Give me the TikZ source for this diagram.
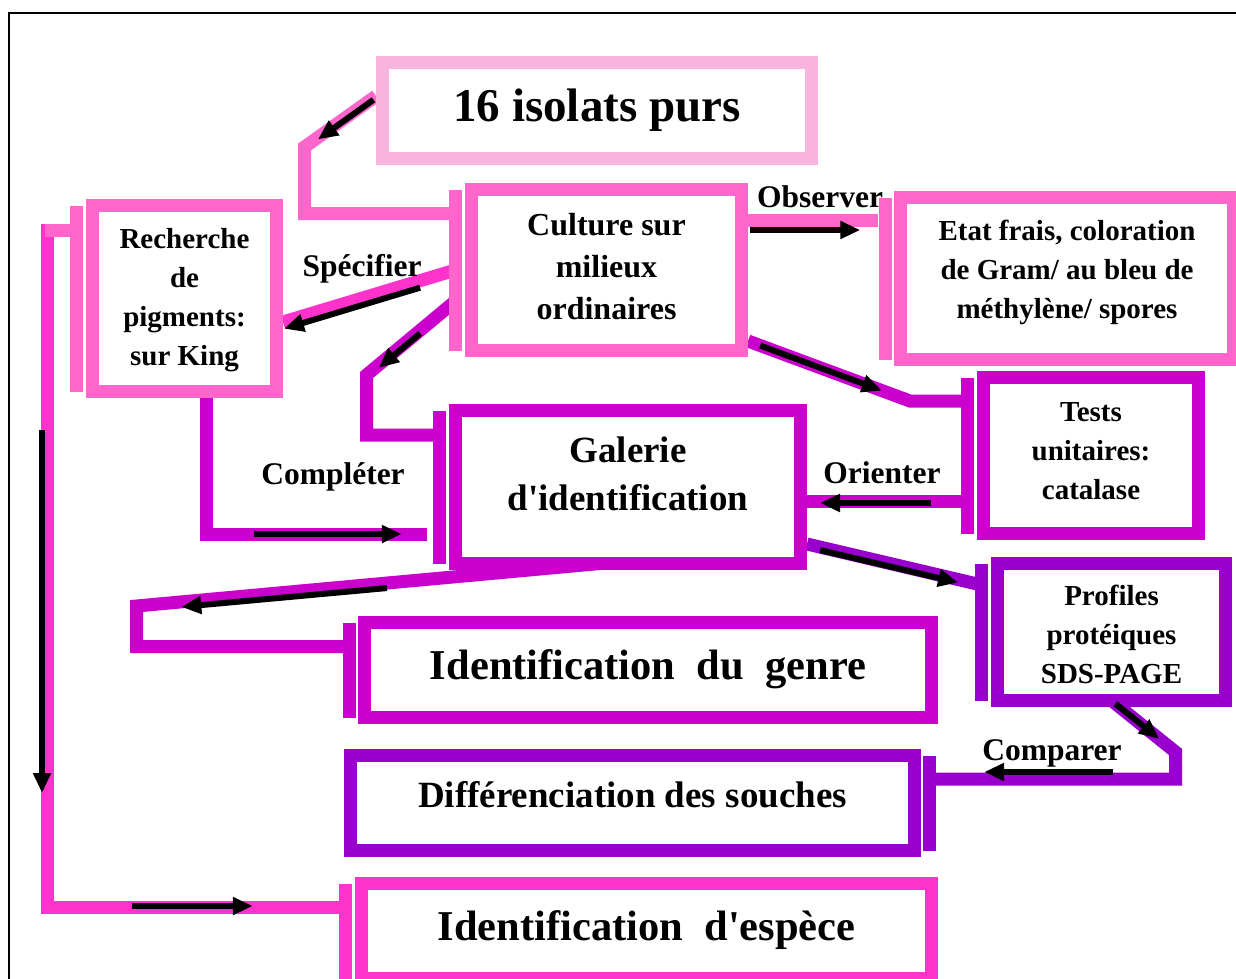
\documentclass[tikz,border=0pt]{standalone}
\usepackage{fontspec}
\setmainfont{Liberation Serif}
\usetikzlibrary{arrows.meta,backgrounds}

\definecolor{isopink}{HTML}{F8B4DE}
\definecolor{rosepk}{HTML}{FF66CC}
\definecolor{hotpk}{HTML}{FF33CC}
\definecolor{mag}{HTML}{CC00CC}
\definecolor{purp}{HTML}{9900CC}

% box text, raised inside its box without changing the box size
\newcommand{\boxtext}[2]{\raisebox{#1}[\height][\depth]{\begin{tabular}{@{}c@{}}#2\end{tabular}}}

\begin{document}
\begin{tikzpicture}[x=1pt, y=-1pt,
  box/.style={draw=#1, line width=13pt, fill=white, inner sep=0pt},
  bar/.style={fill=#1, inner sep=0pt, minimum width=13pt},
  wire/.style={draw=#1, line width=13pt},
  arr/.style={draw=black, line width=6pt, -{Triangle[length=20pt, width=17pt]}},
  lbl/.style={font=\bfseries\fontsize{31.5}{38}\selectfont, inner sep=0pt},
  ftS/.style={font=\bfseries\fontsize{29}{39}\selectfont},
  ftC/.style={font=\bfseries\fontsize{32}{42}\selectfont},
  ftM/.style={font=\bfseries\fontsize{37}{48}\selectfont},
  ftL/.style={font=\bfseries\fontsize{42.5}{50}\selectfont},
  ftXL/.style={font=\bfseries\fontsize{47}{56}\selectfont}
]
\useasboundingbox (0,0) rectangle (1236,978);
\draw[line width=2pt] (9,1000) -- (9,13) -- (1250,13);

% Boxes
\node[box=isopink, ftXL, minimum width=429pt, minimum height=96pt] (isol) at (597,110.5) {\boxtext{0pt}{16 isolats purs}};
\node[box=rosepk, ftC, minimum width=270pt, minimum height=161pt] (cult) at (606.5,270) {\boxtext{1pt}{Culture sur\\milieux\\ordinaires}};
\node[box=rosepk, ftS, minimum width=184pt, minimum height=186pt] (rech) at (184.5,298.5) {\boxtext{-1pt}{Recherche\\de\\pigments:\\sur King}};
\node[box=rosepk, ftS, minimum width=333pt, minimum height=162pt] (etat) at (1067,278.5) {\boxtext{6.5pt}{Etat frais, coloration\\de Gram/ au bleu de\\méthylène/ spores}};
\node[box=mag, ftS, minimum width=215pt, minimum height=156pt] (tests) at (1091,455.5) {\boxtext{3pt}{Tests\\unitaires:\\catalase}};
\node[box=mag, ftM, minimum width=345pt, minimum height=153pt] (gal) at (628,487) {\boxtext{10pt}{Galerie\\d\textquotesingle identification}};
\node[box=purp, ftS, minimum width=228pt, minimum height=137pt] (prof) at (1111.5,632) {\boxtext{-5pt}{Profiles\\protéiques\\SDS-PAGE}};
\node[box=mag, ftL, minimum width=567pt, minimum height=95pt] (genre) at (648,670) {\boxtext{1pt}{Identification\ \ du\ \ genre}};
\node[box=purp, ftM, minimum width=564pt, minimum height=95pt] (diff) at (632.5,803) {\boxtext{5.5pt}{Différenciation des souches}};
\node[box=hotpk, ftL, minimum width=570pt, minimum height=95pt] (espece) at (646.5,931) {\boxtext{1pt}{Identification\ \ d\textquotesingle espèce}};

% Bars in front of the boxes (anchors sit on the outer edge of the frame)
\node[bar=rosepk, minimum height=161pt] (cult-bar) at ([xshift=-9.5pt]cult.west) {};
\node[bar=rosepk, minimum height=186pt] (rech-bar) at ([xshift=-9.5pt]rech.west) {};
\node[bar=rosepk, minimum height=162pt] (etat-bar) at ([xshift=-9pt]etat.west) {};
\node[bar=mag, minimum height=156pt] (tests-bar) at ([xshift=-9.5pt]tests.west) {};
\node[bar=mag, minimum height=153pt] (gal-bar) at ([xshift=-9.5pt]gal.west) {};
\node[bar=purp, minimum height=137pt] (prof-bar) at ([xshift=-9.5pt]prof.west) {};
\node[bar=mag, minimum height=95pt] (genre-bar) at ([xshift=-8.5pt]genre.west) {};
\node[bar=purp, minimum height=95pt] (diff-bar) at ([xshift=8.5pt]diff.east) {};
\node[bar=hotpk, minimum height=95pt] (espece-bar) at ([xshift=-9.5pt]espece.west) {};

% Coloured links behind the boxes
\begin{scope}[on background layer]
\draw[wire=rosepk] (isol.west |- 0,96) -- (304.5,147) |- (cult-bar.west |- 0,213.5);
\draw[wire=hotpk] (cult-bar.center |- 0,270) -- (rech.east |- 0,322);
\draw[wire=mag] (cult-bar.center |- 0,301) -- (366.5,375) |- (gal-bar.west |- 0,435);
\draw[wire=rosepk] (cult.east |- 0,220) -- (etat-bar.west |- 0,220);
\draw[wire=mag] (cult.east |- 0,341) -- (910,401) -- (tests-bar.west |- 0,401);
\draw[wire=mag] (tests-bar.west |- 0,501.5) -- (gal.east |- 0,501.5);
\draw[wire=mag, shorten >=6pt] ([xshift=22pt]rech.south) |- (gal-bar.west |- 0,534);
\draw[wire=mag] ([xshift=-28pt, yshift=6.5pt]gal.south) -- (136.5,606) |- (genre-bar.west |- 0,646.5);
\draw[wire=purp] (gal.east |- 0,544) -- (prof-bar.center |- 0,585);
\draw[wire=purp] ([yshift=6.5pt]prof.south) -- (1175.5,752) |- (diff-bar.east |- 0,779);
\draw[wire=hotpk] (rech-bar.west |- 0,230) -- (47,230) -- (47,907) -- (espece-bar.west |- 0,907);
\draw[wire=rosepk] (rech-bar.west |- 0,230) -- (45,230);
\end{scope}

% Black arrows on the links
\draw[arr, shorten <=3pt, shorten >=16.5pt, transform canvas={yshift=-2pt}] (isol.west |- 0,96) -- (304.5,147);
\draw[arr, shorten <=37pt, shorten >=1pt, transform canvas={yshift=-7pt}] (cult-bar.center |- 0,270) -- (rech.east |- 0,322);
\draw[arr, shorten <=46pt, shorten >=16pt, transform canvas={yshift=-3pt}] (cult-bar.center |- 0,301) -- (366.5,375);
\draw[arr, shorten <=2pt, shorten >=18pt, transform canvas={yshift=-10pt}] (cult.east |- 0,220) -- (etat-bar.west |- 0,220);
\draw[arr, shorten <=13pt, shorten >=30pt] (cult.east |- 0,341) -- (910,401);
\draw[arr, shorten <=30pt, shorten >=13pt, transform canvas={yshift=-1.5pt}] (tests-bar.west |- 0,501.5) -- (gal.east |- 0,501.5);
\draw[arr, shorten <=47.5pt, shorten >=31pt] (206.5,534) -- (gal-bar.west |- 0,534);
\draw[arr, shorten <=214pt, shorten >=45pt, transform canvas={yshift=-5pt}] ([xshift=-28pt, yshift=6.5pt]gal.south) -- (136.5,606);
\draw[arr, shorten <=13.5pt, shorten >=24pt, transform canvas={yshift=-3pt}] (gal.east |- 0,544) -- (prof-bar.center |- 0,585);
\draw[arr, shorten <=5pt, shorten >=21pt] ([yshift=6.5pt]prof.south) -- (1175.5,752);
\draw[arr, shorten <=62.5pt, shorten >=48pt, transform canvas={yshift=7pt}] (1175.5,779) -- (diff-bar.east |- 0,779);
\draw[arr, shorten <=200pt, shorten >=114pt, transform canvas={xshift=-5pt}] (47,230) -- (47,907);
\draw[arr, shorten <=85pt, shorten >=86pt, transform canvas={yshift=1pt}] (47,907) -- (espece-bar.west |- 0,907);

% Link labels
\node[lbl] (spec) at (362,269) {Spécifier};
\node[lbl] (obs) at (820,197) {Observer};
\node[lbl] (cmpl) at (333,477) {Compléter};
\node[lbl] (orient) at (882,473) {Orienter};
\node[lbl] (cmpr) at (1052,753) {Comparer};
\end{tikzpicture}
\end{document}
